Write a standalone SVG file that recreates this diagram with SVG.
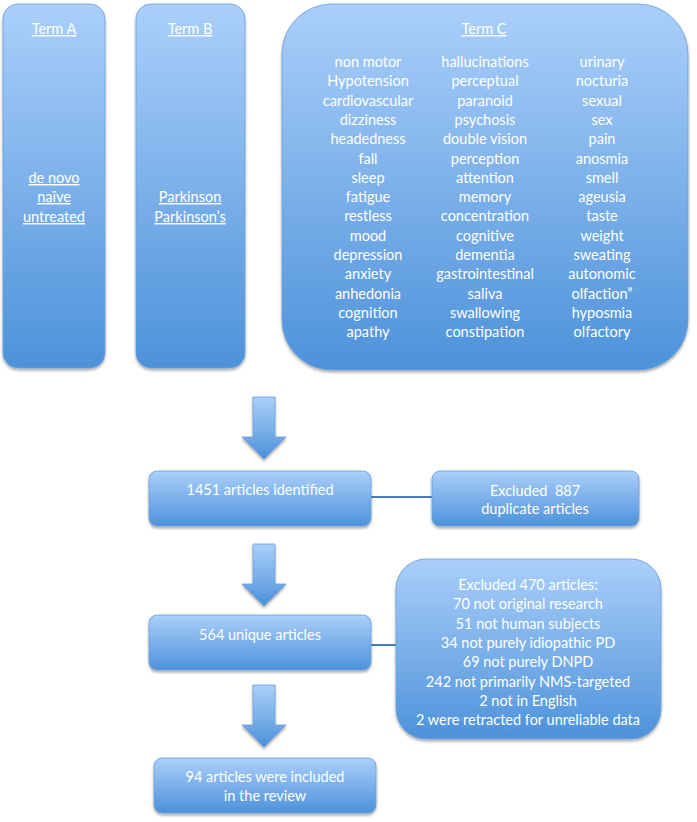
<svg xmlns="http://www.w3.org/2000/svg" width="697" height="822" viewBox="0 0 697 822">
<defs>
<linearGradient id="g" x1="0" y1="0" x2="0" y2="1">
<stop offset="0" stop-color="#abcffa"/>
<stop offset="1" stop-color="#4d92da"/>
</linearGradient>
<filter id="sh" x="-10%" y="-10%" width="120%" height="130%">
<feGaussianBlur in="SourceAlpha" stdDeviation="1.5"/>
<feOffset dx="0" dy="2" result="b"/>
<feComponentTransfer><feFuncA type="linear" slope="0.35"/></feComponentTransfer>
<feMerge><feMergeNode/><feMergeNode in="SourceGraphic"/></feMerge>
</filter>
</defs>
<style>
.box{fill:url(#g);stroke:#6a9fdc;stroke-width:0.8;filter:url(#sh)}
text{font-family:Lato,"Liberation Sans",sans-serif;font-size:14.5px;fill:#ffffff;text-anchor:middle}
.u{text-decoration:underline}
.con{stroke:#4a7ebb;stroke-width:2;fill:none}
</style>
<g id="termA">
<rect class="box" x="3" y="4" width="102" height="364" rx="15"/>
<text class="u" x="54" y="34">Term A</text>
<text class="u" x="54" y="183">de novo</text>
<text class="u" x="54" y="202">naïve</text>
<text class="u" x="54" y="222">untreated</text>
</g>
<g id="termB">
<rect class="box" x="136" y="4" width="109" height="364" rx="15"/>
<text class="u" x="190" y="34">Term B</text>
<text class="u" x="190" y="202">Parkinson</text>
<text class="u" x="190" y="222">Parkinson’s</text>
</g>
<g id="termC">
<rect class="box" x="282" y="4" width="406" height="366" rx="50"/>
<text class="u" x="484" y="34">Term C</text>
<g transform="translate(0,67)">
<text x="368" y="0">non motor</text><text x="485" y="0">hallucinations</text><text x="602" y="0">urinary</text>
<text x="368" y="19.3">Hypotension</text><text x="485" y="19.3">perceptual</text><text x="602" y="19.3">nocturia</text>
<text x="368" y="38.6">cardiovascular</text><text x="485" y="38.6">paranoid</text><text x="602" y="38.6">sexual</text>
<text x="368" y="57.9">dizziness</text><text x="485" y="57.9">psychosis</text><text x="602" y="57.9">sex</text>
<text x="368" y="77.2">headedness</text><text x="485" y="77.2">double vision</text><text x="602" y="77.2">pain</text>
<text x="368" y="96.5">fall</text><text x="485" y="96.5">perception</text><text x="602" y="96.5">anosmia</text>
<text x="368" y="115.8">sleep</text><text x="485" y="115.8">attention</text><text x="602" y="115.8">smell</text>
<text x="368" y="135.1">fatigue</text><text x="485" y="135.1">memory</text><text x="602" y="135.1">ageusia</text>
<text x="368" y="154.4">restless</text><text x="485" y="154.4">concentration</text><text x="602" y="154.4">taste</text>
<text x="368" y="173.7">mood</text><text x="485" y="173.7">cognitive</text><text x="602" y="173.7">weight</text>
<text x="368" y="193">depression</text><text x="485" y="193">dementia</text><text x="602" y="193">sweating</text>
<text x="368" y="212.3">anxiety</text><text x="485" y="212.3">gastrointestinal</text><text x="602" y="212.3">autonomic</text>
<text x="368" y="231.6">anhedonia</text><text x="485" y="231.6">saliva</text><text x="602" y="231.6">olfaction”</text>
<text x="368" y="250.9">cognition</text><text x="485" y="250.9">swallowing</text><text x="602" y="250.9">hyposmia</text>
<text x="368" y="270.2">apathy</text><text x="485" y="270.2">constipation</text><text x="602" y="270.2">olfactory</text>
</g>
</g>
<g id="connectors">
<line class="con" x1="371" y1="497" x2="432" y2="497"/>
<line class="con" x1="371" y1="645" x2="396" y2="645"/>
<path class="box" d="M253 397 H275 V437 H286 L264 459 L242 437 H253 Z"/>
<path class="box" d="M253 544 H275 V584 H286 L264 606 L242 584 H253 Z"/>
<path class="box" d="M253 685 H275 V725 H286 L264 747 L242 725 H253 Z"/>
</g>
<g id="identified">
<rect class="box" x="149" y="471" width="222" height="55" rx="8"/>
<text x="260" y="495">1451 articles identified</text>
</g>
<g id="excluded887">
<rect class="box" x="432" y="471" width="207" height="55" rx="8"/>
<text x="535" y="496">Excluded&#160; 887</text>
<text x="535" y="514">duplicate articles</text>
</g>
<g id="unique">
<rect class="box" x="149" y="615" width="222" height="55" rx="8"/>
<text x="260" y="640">564 unique articles</text>
</g>
<g id="excluded470">
<rect class="box" x="396" y="559" width="265" height="180" rx="30"/>
<text x="528" y="590">Excluded 470 articles:</text>
<text x="528" y="609.3">70 not original research</text>
<text x="528" y="628.6">51 not human subjects</text>
<text x="528" y="647.9">34 not purely idiopathic PD</text>
<text x="528" y="667.2">69 not purely DNPD</text>
<text x="528" y="686.5">242 not primarily NMS-targeted</text>
<text x="528" y="705.8">2 not in English</text>
<text x="528" y="725.1">2 were retracted for unreliable data</text>
</g>
<g id="included">
<rect class="box" x="154" y="758" width="222" height="55" rx="8"/>
<text x="265" y="782">94 articles were included</text>
<text x="265" y="801">in the review</text>
</g>
</svg>
